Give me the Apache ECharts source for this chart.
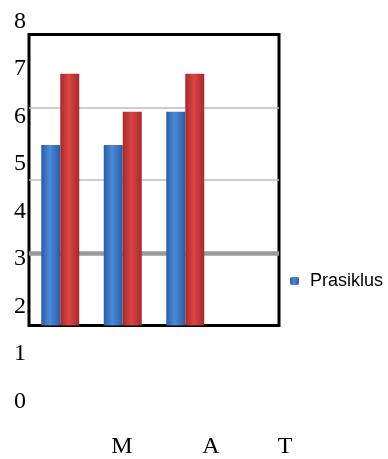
<!DOCTYPE html>
<html>
<head>
<meta charset="utf-8">
<script src="https://cdn.jsdelivr.net/npm/echarts@6/dist/echarts.min.js"></script>
<style>
  html, body { margin: 0; padding: 0; background: #fff; }
  #chart { width: 388px; height: 459px; }
</style>
</head>
<body>
<div id="chart"></div>
<script>
// Category labels along the bottom
const categories = ['M', 'A', 'T'];
// Bar slots inside the frame (the last slot is empty)
const barSlots = ['M', 'A', 'T', ''];
// Series values
const prasiklus = [5.4, 5.4, 6.1, null];
const second = [6.9, 6.1, 6.9, null];
// Value axis tick range
const yMin = 0, yMax = 8, yStep = 1;

// ---- layout ----
const W = 388, H = 459;
const scaleTop = 21.5, scaleBottom = 401.5;          // where 8 and 0 sit on the left scale
const frame = { left: 29, right: 279, top: 34.5, bottom: 325.5 };
const pxPerUnit = (scaleBottom - scaleTop) / (yMax - yMin);
const valueAt = y => (scaleBottom - y) / pxPerUnit;  // left-scale value at a pixel row
const labelSlots = [0, 6, 11];                       // horizontal spacing of the bottom labels

// bottom axis: evenly spaced slots, with the category letters at their slots
const bottomAxis = new Array(labelSlots[labelSlots.length - 1] + 1).fill('');
labelSlots.forEach((s, i) => { bottomAxis[s] = categories[i]; });

const serif = 'Liberation Serif, Times New Roman, serif';

function cylinder(edge, mid) {
  return new echarts.graphic.LinearGradient(0, 0, 1, 0, [
    { offset: 0, color: edge },
    { offset: 0.45, color: mid },
    { offset: 1, color: edge }
  ]);
}

const chart = echarts.init(document.getElementById('chart'), null, { renderer: 'canvas' });

chart.setOption({
  animation: false,
  backgroundColor: '#fff',
  legend: {
    data: ['Prasiklus'],
    left: 290, top: 272, padding: 0,
    itemWidth: 9, itemHeight: 8,
    textStyle: { fontFamily: 'Liberation Sans, Arial, sans-serif', fontSize: 18, color: '#000', padding: [0, 0, 0, 6] }
  },
  grid: [
    // left number scale
    { left: 26, width: 1, top: scaleTop, bottom: H - scaleBottom },
    // framed bar area
    { left: frame.left, right: W - frame.right, top: frame.top, bottom: H - frame.bottom,
      show: true, borderColor: '#000', borderWidth: 3, backgroundColor: 'transparent' },
    // bottom category labels
    { left: 122, right: W - 285, top: 428, height: 1 }
  ],
  xAxis: [
    { gridIndex: 0, type: 'category', data: [''], show: false },
    { gridIndex: 1, type: 'category', data: barSlots, show: false },
    { gridIndex: 2, type: 'category', data: bottomAxis, boundaryGap: false,
      axisLine: { show: false }, axisTick: { show: false }, splitLine: { show: false },
      axisLabel: { interval: 0, fontFamily: serif, fontSize: 24, color: '#000', margin: 6 } }
  ],
  yAxis: [
    { gridIndex: 0, type: 'value', min: yMin, max: yMax, interval: yStep,
      axisLine: { show: false }, axisTick: { show: false }, splitLine: { show: false },
      axisLabel: { fontFamily: serif, fontSize: 24, color: '#000', margin: 0 } },
    // value axis for the bars, on the same scale as the numbers at left
    { gridIndex: 1, type: 'value', min: valueAt(frame.bottom), max: valueAt(frame.top),
      show: false, splitLine: { show: false } },
    // light grid lines inside the frame
    { gridIndex: 1, type: 'value', min: 0, max: 4, interval: 1, position: 'right',
      axisLine: { show: false }, axisTick: { show: false }, axisLabel: { show: false },
      splitLine: { show: true, lineStyle: { width: 1.5, color: ['transparent', 'transparent', '#bdbdbd', '#bdbdbd', 'transparent'] } } },
    { gridIndex: 2, type: 'value', show: false }
  ],
  series: [
    { name: 'Prasiklus', type: 'bar', xAxisIndex: 1, yAxisIndex: 1,
      data: prasiklus, barWidth: 19, barGap: '0%', z: 3,
      itemStyle: { color: cylinder('#2a5ea8', '#4a8ad8') },
      markLine: {
        silent: true, symbol: 'none', z: 1,
        label: { show: false },
        lineStyle: { color: '#9a9a9a', width: 4.5, type: 'solid' },
        data: [{ yAxis: valueAt(253) }]
      } },
    { name: 'Seri 2', type: 'bar', xAxisIndex: 1, yAxisIndex: 1,
      data: second, barWidth: 19, barGap: '0%', z: 3,
      itemStyle: { color: cylinder('#a82a2a', '#dc4444') } },
    // keeps the number scale and label axes populated
    { type: 'line', xAxisIndex: 0, yAxisIndex: 0, data: [null], silent: true },
    { type: 'line', xAxisIndex: 2, yAxisIndex: 3, data: [], silent: true }
  ]
});
</script>
</body>
</html>
